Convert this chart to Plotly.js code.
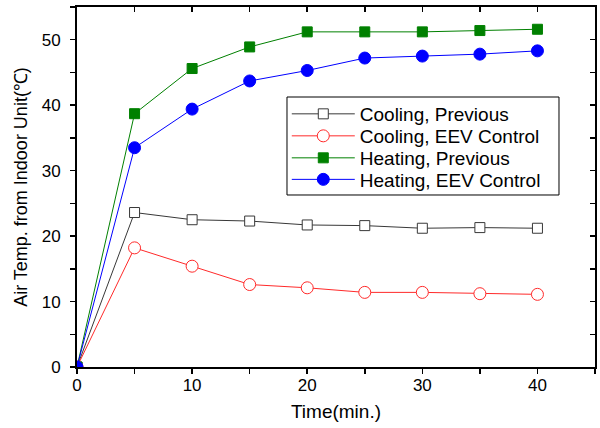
<!DOCTYPE html>
<html><head><meta charset="utf-8">
<script src="https://cdn.plot.ly/plotly-3.0.1.min.js"></script>
<style>body{margin:0;background:#fff}#c{width:600px;height:428px}</style>
</head><body><div id="c"></div>
<script>
const time = [0, 5, 10, 15, 20, 25, 30, 35, 40];
const coolingPrevious = [0, 23.6, 22.5, 22.3, 21.7, 21.6, 21.2, 21.3, 21.2];
const coolingEEV = [0, 18.2, 15.4, 12.6, 12.1, 11.4, 11.4, 11.2, 11.1];
const heatingPrevious = [0, 38.7, 45.6, 48.9, 51.2, 51.2, 51.2, 51.4, 51.6];
const heatingEEV = [0, 33.5, 39.4, 43.7, 45.3, 47.2, 47.5, 47.8, 48.3];
const names = ["Cooling, Previous", "Cooling, EEV Control", "Heating, Previous", "Heating, EEV Control"];

const F = "Arial, 'Liberation Sans', sans-serif";
function tr(y, name, color, symbol, size, fill, leg) {
  return {x: time, y: y, name: name, type: 'scatter', mode: 'lines+markers', cliponaxis: true,
    legend: leg,
    line: {color: color, width: 1},
    marker: {symbol: symbol, size: size, color: fill, line: {color: color, width: 1}}};
}
const data = [
  tr(coolingPrevious, names[0], '#383838', 'square', 10, '#ffffff', 'legend'),
  tr(coolingEEV, names[1], '#ff2a2a', 'circle', 12, '#ffffff', 'legend2'),
  tr(heatingPrevious, names[2], '#008000', 'square', 10, '#008000', 'legend3'),
  tr(heatingEEV, names[3], '#0000ff', 'circle', 12, '#0000ff', 'legend4'),
];
const tickFont = {family: F, size: 17, color: '#000'};
function leg(y) {
  return {x: 0.405, y: y, xanchor: 'left', yanchor: 'middle', bgcolor: 'rgba(0,0,0,0)',
    borderwidth: 0, font: {family: F, size: 19, color: '#000'}, itemwidth: 63};
}
const layout = {
  width: 600, height: 428,
  margin: {l: 77, r: 5, t: 7, b: 61},
  paper_bgcolor: '#fff', plot_bgcolor: '#fff',
  font: {family: F, size: 17, color: '#000'},
  showlegend: true,
  legend: leg(0.7028), legend2: leg(0.6417), legend3: leg(0.5806), legend4: leg(0.5208),
  shapes: [{type: 'rect', xref: 'paper', yref: 'paper', x0: 0.4054, x1: 0.9305, y0: 0.4778, y1: 0.75,
    fillcolor: '#fff', line: {color: '#000', width: 1}, layer: 'above'}],
  xaxis: {range: [0, 45], tickvals: [0, 10, 20, 30, 40], ticks: 'outside', ticklen: 5, tickwidth: 1.5,
    tickcolor: '#000', showline: true, linecolor: '#000', linewidth: 2, showgrid: false, zeroline: false,
    tickfont: tickFont, ticklabelstandoff: -3,
    minor: {dtick: 5, tick0: 0, ticks: 'outside', ticklen: 5, tickwidth: 1.5, tickcolor: '#000'},
    title: {text: 'Time(min.)', font: {family: F, size: 19}, standoff: 10}},
  yaxis: {range: [0, 55], tickvals: [0, 10, 20, 30, 40, 50], ticks: 'outside', ticklen: 5, tickwidth: 1.5,
    tickcolor: '#000', showline: true, linecolor: '#000', linewidth: 2, showgrid: false, zeroline: false,
    tickfont: tickFont, ticklabelstandoff: 6,
    minor: {dtick: 5, tick0: 0, ticks: 'outside', ticklen: 5, tickwidth: 1.5, tickcolor: '#000'},
    title: {text: 'Air Temp. from Indoor Unit(℃)\u00a0\u00a0\u00a0\u00a0\u00a0', font: {family: F, size: 18}, standoff: 9}},
  xaxis2: {overlaying: 'x', side: 'top', matches: 'x', range: [0, 45], tickvals: [0,5,10,15,20,25,30,35,40,45],
    ticks: 'inside', ticklen: 5, tickwidth: 1.5, tickcolor: '#000', showticklabels: false,
    showline: true, linecolor: '#000', linewidth: 2, showgrid: false, zeroline: false},
  yaxis2: {overlaying: 'y', side: 'right', matches: 'y', range: [0, 55], tickvals: [0,5,10,15,20,25,30,35,40,45,50,55],
    ticks: 'inside', ticklen: 5, tickwidth: 1.5, tickcolor: '#000', showticklabels: false,
    showline: true, linecolor: '#000', linewidth: 2, showgrid: false, zeroline: false},
};
data.push({x: [0], y: [0], xaxis: 'x2', yaxis: 'y2', mode: 'markers', showlegend: false, hoverinfo: 'skip',
  marker: {opacity: 0}});
Plotly.newPlot('c', data, layout, {staticPlot: true});
</script></body></html>
